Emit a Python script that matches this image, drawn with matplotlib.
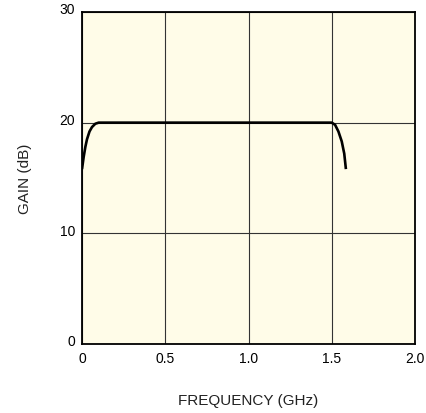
import matplotlib
matplotlib.use("Agg")
import matplotlib.pyplot as plt
from matplotlib.transforms import ScaledTranslation

# gain curve
freq_ghz = [0.0, 0.01, 0.02, 0.03, 0.045, 0.06, 0.08, 0.1, 0.5, 1.0, 1.5,
            1.52, 1.54, 1.56, 1.575, 1.585]
gain_db = [15.8, 16.9, 17.8, 18.5, 19.2, 19.6, 19.9, 20.0, 20.0, 20.0, 20.0,
           19.8, 19.2, 18.3, 17.2, 15.8]

x_ticks = [0, 0.5, 1.0, 1.5, 2.0]
x_tick_labels = ["0", "0.5", "1.0", "1.5", "2.0"]
y_ticks = [0, 10, 20, 30]

plt.rcParams['font.family'] = ['Liberation Sans', 'DejaVu Sans']

fig = plt.figure(figsize=(4.26, 4.14), dpi=100)
ax = fig.add_axes([0.1925, 0.1667, 0.7817, 0.802])
ax.set_facecolor('#fffce8')

ax.plot(freq_ghz, gain_db, color='black', linewidth=1.9, solid_capstyle='butt')

ax.set_xlim(0, 2.0)
ax.set_ylim(0, 30)
ax.set_xticks(x_ticks)
ax.set_xticklabels(x_tick_labels)
ax.set_yticks(y_ticks)
ax.grid(True, color='#333333', linewidth=0.8)
ax.set_axisbelow(True)
ax.tick_params(length=0, labelsize=10, pad=5)
for s in ax.spines.values():
    s.set_linewidth(1.3)
    s.set_color('black')

# y tick labels sit a little above their grid lines
shift = ScaledTranslation(0, 3 / 72, fig.dpi_scale_trans)
for lab in ax.get_yticklabels():
    lab.set_transform(lab.get_transform() + shift)

ax.set_xlabel('FREQUENCY (GHz)', fontsize=11, labelpad=20, color='#222222')
ax.set_ylabel('GAIN (dB)', fontsize=11, labelpad=20, color='#222222')

fig.savefig('out.png', dpi=100)
